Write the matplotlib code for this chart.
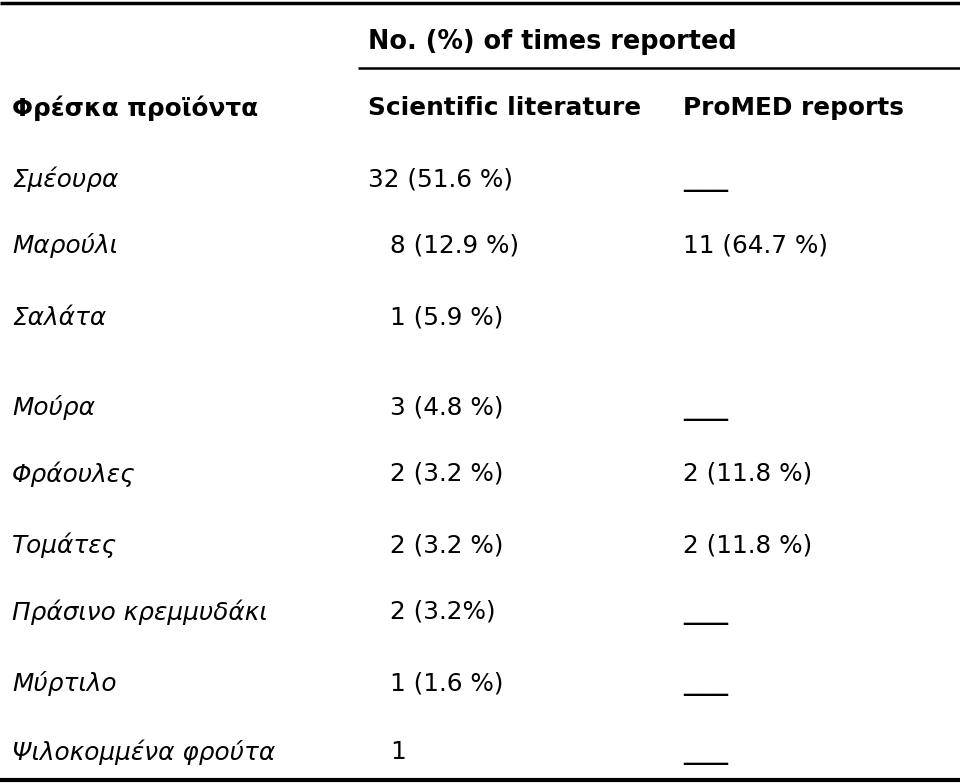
import matplotlib.pyplot as plt

products = ["Σμέουρα", "Μαρούλι", "Σαλάτα", "Μούρα", "Φράουλες", "Τομάτες",
            "Πράσινο κρεμμυδάκι", "Μύρτιλο", "Ψιλοκομμένα φρούτα"]
sci_lit = ["32 (51.6 %)", "8 (12.9 %)", "1 (5.9 %)", "3 (4.8 %)", "2 (3.2 %)",
           "2 (3.2 %)", "2 (3.2%)", "1 (1.6 %)", "1"]
promed = ["___", "11 (64.7 %)", "", "___", "2 (11.8 %)", "2 (11.8 %)",
          "___", "___", "___"]
headers = ["Φρέσκα προϊόντα", "Scientific literature", "ProMED reports"]
group_title = "No. (%) of times reported"

plt.rcParams['font.family'] = ['DejaVu Sans']

W, H = 960, 783
fig = plt.figure(figsize=(W / 100, H / 100), dpi=100)
ax = fig.add_axes([0, 0, 1, 1])
ax.set_xlim(0, W)
ax.set_ylim(H, 0)
ax.axis("off")

fs = 17.8
row_y = [179, 246, 318, 408, 474, 545, 612, 683, 752]
sci_x = [368, 390, 390, 390, 390, 390, 390, 390, 390]
col_x = [12, 368, 683]

# rules
ax.plot([0, W], [3, 3], color="black", lw=2.5, solid_capstyle="butt")
ax.plot([358, W], [68, 68], color="black", lw=1.8, solid_capstyle="butt")
ax.plot([0, W], [780, 780], color="black", lw=3, solid_capstyle="butt")

ax.text(368, 42, group_title, fontsize=fs + 0.6, fontweight="bold",
        va="center", ha="left")
for x, h in zip(col_x, headers):
    ax.text(x, 108, h, fontsize=fs, fontweight="bold", va="center", ha="left")

for y, p, s, sx, m in zip(row_y, products, sci_lit, sci_x, promed):
    ax.text(col_x[0], y, p, fontsize=fs, style="italic", va="center", ha="left")
    ax.text(sx, y, s, fontsize=fs, va="center", ha="left")
    if m == "___":
        # placeholder dash, drawn a bit wider than the text size
        ax.text(col_x[2], y + 6, m, fontsize=21.5, va="baseline", ha="left")
    elif m:
        ax.text(col_x[2], y, m, fontsize=fs, va="center", ha="left")

fig.savefig("out.png", dpi=100)
